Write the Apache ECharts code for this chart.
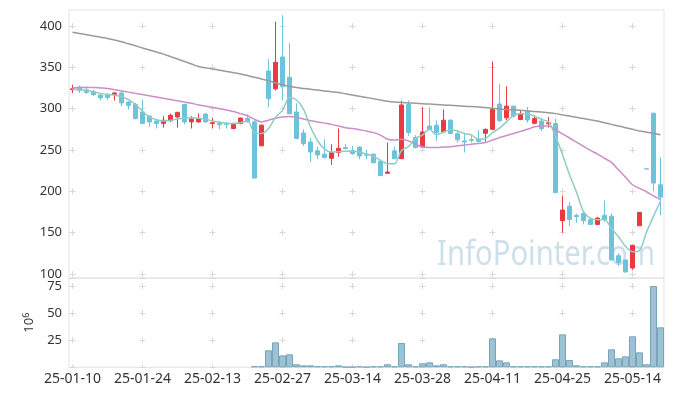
<!DOCTYPE html>
<html><head><meta charset="utf-8">
<script src="https://cdn.jsdelivr.net/npm/echarts@6/dist/echarts.min.js"></script>
<style>html,body{margin:0;padding:0;background:#fff}#c{width:673px;height:396px}</style>
</head><body><div id="c"></div>
<script>
const dates = ['25-01-10','25-01-13','25-01-14','25-01-15','25-01-16','25-01-17','25-01-20','25-01-21','25-01-22','25-01-23',
'25-01-24','25-01-31','25-02-03','25-02-04','25-02-05','25-02-06','25-02-07','25-02-10','25-02-11','25-02-12',
'25-02-13','25-02-14','25-02-17','25-02-18','25-02-19','25-02-20','25-02-21','25-02-24','25-02-25','25-02-26',
'25-02-27','25-02-28','25-03-04','25-03-05','25-03-06','25-03-07','25-03-10','25-03-11','25-03-12','25-03-13',
'25-03-14','25-03-17','25-03-18','25-03-19','25-03-20','25-03-21','25-03-24','25-03-25','25-03-26','25-03-27',
'25-03-28','25-03-31','25-04-01','25-04-02','25-04-03','25-04-04','25-04-07','25-04-08','25-04-09','25-04-10',
'25-04-11','25-04-14','25-04-15','25-04-16','25-04-17','25-04-18','25-04-21','25-04-22','25-04-23','25-04-24',
'25-04-25','25-04-28','25-04-29','25-04-30','25-05-02','25-05-07','25-05-08','25-05-09','25-05-12','25-05-13',
'25-05-14','25-05-15','25-05-16','25-05-19','25-05-20'];

const open = [323,326,322.5,320.5,316.5,317,317,319,308,305,
296,291,285,282,285.5,290,305,284,284,293.5,
282,282,281.5,276,282,288,284,255,345.6,324,
362.5,338,296,270.6,259.7,249,245,240,247,253,
249,253.6,245,245,236.4,221.8,249,239.5,305,265,
253.6,279,280,272,286,269.6,261,262.5,263,270.2,
275,305.6,289,303,287,297,282.3,285,282,282,
164.5,182,171,173.4,166,160,171,170,122,117,
107.3,158.4,227.2,294.5,208];
const close = [324,322,319.5,317,313,313.5,319,307,304,288,
282,284,282,286,292,295.6,284,287.5,287.5,284,
283,280.5,281,282,288.7,284.3,216,280,312,356,
327,294,264,257.6,247.6,244,241,246.8,252,251.6,
245.5,242.7,243.6,234.6,219,223.4,239.5,304.4,271,253,
271.8,275,271,286,270,262.3,259.7,261.7,260.5,275,
299,285.4,303,291,293.5,286.3,288,276,283,198.4,
177.4,166,169.5,164.5,160,167.6,166,117,113.7,102.4,
134.7,174.6,227,210,193];
const low = [319,319,318,315,310,310,310,303,299,287,
282,278,276,277,284,277,281,276,283,283,
276,275,276,275,281,283,216,255,302,322,
310,293,263,255,235.5,239,240,232,242,251,
244.5,238.7,238.7,234,219,221.8,239,239,267,252,
253,274,261,272,270,259,247,259,259,260,
274,284,286,289,286,283,281,273,277,198,
150,158,162,160,159,159,163,117,110,102,
105,158.4,227,200,171];
const high = [329,328,327,323,317,319,320,320,309,307,
311,292,287,291,294,296,306,291,294,294,
289,285,284,283,289,293,286,281,360,405,
413,379,306.5,275,265,254,263,257,276,257,
255,254,250.5,246,238,259,254,309.6,310,268,
301.6,301.6,286,299,287,274,270,268,274,276,
357,330,327,304,298,302,292,289,290,288,
195,187,173,176,168,169,189,173,125,118,
135.5,174.6,227.2,295,241];
const volume = [0,0,0,0,0,0,0,0,0,0,
0,0,0,0,0,0,0,0,0,0,
0,0,0,0,0,0,1,1,15.7,23,
11,12,2.8,1.8,1.8,1,1,1,1.8,0.3,
0.3,0.9,0.3,0.9,0.9,2.8,0.9,22.4,2.8,0.9,
3.7,4.6,1.8,2.8,0.9,0.9,0.9,0.3,0.9,0.9,
26.7,6.4,4.6,0.9,0.9,0.9,0.9,0.9,0.9,7.4,
30.4,6.7,1.8,0.9,0.9,0.9,4.6,16.6,8.3,10.1,
28.6,13.8,2.8,75,36.9];
const maShort = [323.5,323,322.5,320.5,318.5,317,316.5,314.5,311,305,
297,290,286.5,285,286,287.5,288.5,289,288.5,287.5,
285,283.5,282.5,282,283,285,271,270,276,289.5,
298,313.5,310.5,299.5,278,261.5,251,247.5,248,248.5,
248.5,247.5,245,242.5,237.5,233.5,233.5,249.5,254,264,
268,275,268.5,271.5,274.5,273,270,268,263,264,
271,276.5,284,292,294,294,291,287,284,266.5,
244.5,220,199,175.5,167.5,165.5,165.5,155,145,133.5,
127,128.5,150.5,170,188];
const maMid = [325,325.5,325.5,325.5,325,324.5,323,321.5,320,318.5,
317,315.5,314,312.5,311,309.5,308,306.5,304.5,303,
301.5,300,298.5,296.5,294,291.5,287,284,286,288.5,
290,290.5,289.5,287.5,285.5,284,282.5,281,279,277,
276,274.5,273,271,268,263,262,263,261,257,
253.5,253,253,253.5,254,255,256,257,258,259,
262,265,267.5,270,272.5,275,278,279,279,274.5,
269.5,264.5,259.5,254.5,249.5,245,240,235,226,217,
208,203.5,199.5,194.5,190];
const maLong = [392.5,391,389.5,388,386.5,385,383,381,378.5,376,
373.5,371,368.5,366,363,360,357,354,351,349.5,
348,346.5,345,343.5,342,340,338,336,334,331,
329,327,325.5,324.5,323.5,322.5,321.5,320.5,319.5,318,
316.5,315,313.5,312,310.5,309,308,307.5,307,306.5,
306,305.5,305,304.5,304,303.5,303,302.5,302,301.5,
300.5,299.5,299,298.5,298,297.5,296.5,296,295,294,
292.5,291,289.5,288,286.5,285,283,281,279,277,
275,273,271.5,270,268.5];
const priceTicks = [100,150,200,250,300,350,400];
const volumeTicks = [25,50,75];

const candles = dates.map((d,i)=>[open[i],close[i],low[i],high[i]]);
const volumeBars = volume.map(v => v === 0 ? null : v);
const GRID_BORDER = '#e3e3e3';
const CROSS = '#d8d8d8';
const chart = echarts.init(document.getElementById('c'));
chart.setOption({
  animation:false,
  backgroundColor:'#fff',
  graphic:[{type:'text', left:437, top:238, z:0, scaleX:0.86,
    style:{text:'InfoPointer.com', font:'34px "Noto Sans"', fill:'rgba(150,190,212,0.48)'}}],
  grid:[
    {left:69, width:595, top:10, height:268, show:true, borderColor:GRID_BORDER, borderWidth:1},
    {left:69, width:595, top:26, height:248, show:false},
    {left:69, width:595, top:278, height:89.3, show:true, borderColor:GRID_BORDER, borderWidth:1}
  ],
  xAxis:[
    {type:'category', gridIndex:0, data:dates, boundaryGap:true,
      axisLine:{show:false}, axisTick:{show:false}, axisLabel:{show:false},
      splitLine:{show:true, interval:9, alignWithLabel:true,
        lineStyle:{color:CROSS, width:1, type:[6,35.33], dashOffset:28.33}}},
    {type:'category', gridIndex:1, data:dates, boundaryGap:true, show:false},
    {type:'category', gridIndex:2, data:dates, boundaryGap:true,
      axisLine:{show:false}, axisTick:{show:false},
      axisLabel:{interval:9, margin:5, color:'#333', fontSize:14, fontFamily:'"Noto Sans"'},
      splitLine:{show:true, interval:9, alignWithLabel:true,
        lineStyle:{color:CROSS, width:1, type:[6,21.1], dashOffset:22.1}}}
  ],
  yAxis:[
    {type:'value', gridIndex:0, show:false, min:0, max:1},
    {type:'value', gridIndex:1, min:priceTicks[0], max:priceTicks[priceTicks.length-1], interval:50,
      axisLine:{show:false}, axisTick:{show:false},
      axisLabel:{color:'#333', fontSize:13, fontFamily:'"Noto Sans"', margin:7},
      splitLine:{show:true, lineStyle:{color:CROSS, width:1, type:[6,64], dashOffset:69.5}}},
    {type:'value', gridIndex:2, min:0, max:82.4, interval:25,
      axisLine:{show:false}, axisTick:{show:false},
      axisLabel:{color:'#333', fontSize:13, fontFamily:'"Noto Sans"', margin:7,
        formatter:v=> volumeTicks.indexOf(v)>=0 ? String(v) : ''},
      splitLine:{show:true, lineStyle:{color:CROSS, width:1, type:[6,64], dashOffset:69.5}},
      name:'{b|10}{s|6}', nameLocation:'middle', nameGap:29, nameRotate:90,
      nameTextStyle:{rich:{b:{fontSize:13, color:'#333', fontFamily:'"Noto Sans"', lineHeight:16},
        s:{fontSize:9, color:'#333', fontFamily:'"Noto Sans"', verticalAlign:'top', lineHeight:16}}}}
  ],
  series:[
    {type:'candlestick', xAxisIndex:1, yAxisIndex:1, data:candles, barWidth:5, clip:false, z:3,
      itemStyle:{color:'#ea3a3f', color0:'#6cc3da', borderColor:'#ea3a3f', borderColor0:'#6cc3da', borderColorDoji:'#6cc3da', borderWidth:1}},
    {type:'line', xAxisIndex:1, yAxisIndex:1, data:maLong, showSymbol:false, smooth:0.3, clip:false, z:4,
      lineStyle:{color:'#9a9a9a', width:1.5}},
    {type:'line', xAxisIndex:1, yAxisIndex:1, data:maMid, showSymbol:false, smooth:0.3, clip:false, z:4,
      lineStyle:{color:'#cc8ec8', width:1.5}},
    {type:'line', xAxisIndex:1, yAxisIndex:1, data:maShort, showSymbol:false, smooth:0.3, clip:false, z:4,
      lineStyle:{color:'#8fcdc3', width:1.5}},
    {type:'bar', xAxisIndex:2, yAxisIndex:2, data:volumeBars, barCategoryGap:'0%', z:3,
      itemStyle:{color:'#9cc2d4', borderColor:'#79a5bc', borderWidth:1}}
  ]
});
</script></body></html>
